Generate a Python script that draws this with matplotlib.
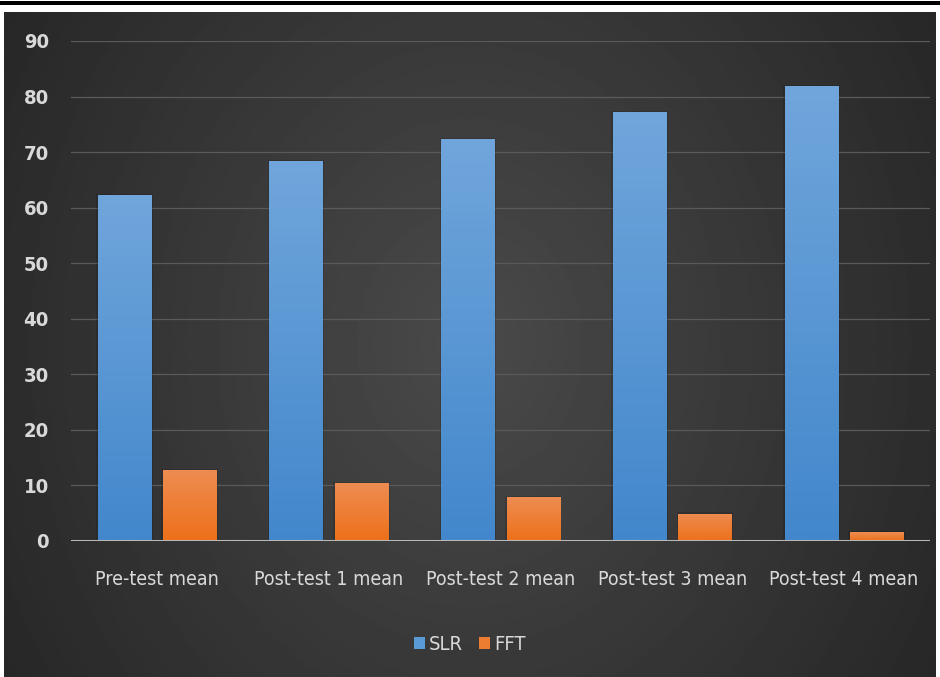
import matplotlib.pyplot as plt
import matplotlib.patches as patches
import numpy as np

# data
categories = ["Pre-test mean", "Post-test 1 mean", "Post-test 2 mean",
              "Post-test 3 mean", "Post-test 4 mean"]
slr_values = [62.3, 68.4, 72.3, 77.2, 81.9]
fft_values = [12.8, 10.4, 7.9, 4.9, 1.6]
y_ticks = [0, 10, 20, 30, 40, 50, 60, 70, 80, 90]

plt.rcParams['font.family'] = ['DejaVu Sans']
plt.rcParams['font.stretch'] = 'condensed'

fig = plt.figure(figsize=(9.4, 6.77), dpi=100)
fig.patch.set_facecolor("white")

# dark radial background panel
bg = fig.add_axes([4 / 940, 0, 932 / 940, 1 - 12 / 677], zorder=-5)
yy, xx = np.mgrid[-1:1:300j, -1:1:400j]
r = np.sqrt((xx * 1.0) ** 2 + (yy * 0.6) ** 2)
bg.imshow(0.29 - 0.14 * np.clip(r, 0, 1.2) / 1.2, cmap="gray", vmin=0, vmax=1,
          aspect="auto", extent=[0, 1, 0, 1])
bg.set_axis_off()

# black rule across the top
fig.add_artist(patches.Rectangle((0, 1 - 5 / 677), 1, 4 / 677,
                                 transform=fig.transFigure,
                                 facecolor="black", edgecolor="none"))

ax = fig.add_axes([71 / 940, 1 - 541 / 677, 859 / 940, 500 / 677])
ax.patch.set_alpha(0)

x = np.arange(len(categories))
w = 0.31
off = 0.19


def gradient_bar(xc, h, top_col, bot_col):
    rect = patches.Rectangle((xc - w / 2, 0), w, h, facecolor="none",
                             edgecolor="none")
    ax.add_patch(rect)
    grad = np.linspace(0, 1, 100)[:, None]
    c1 = np.array(top_col)
    c2 = np.array(bot_col)
    img = c2[None, None, :] * (1 - grad[..., None]) + c1[None, None, :] * grad[..., None]
    im = ax.imshow(img, extent=[xc - w / 2, xc + w / 2, 0, h], origin="lower",
                   aspect="auto", zorder=3)
    im.set_clip_path(rect)
    # soft shadow
    ax.add_patch(patches.Rectangle((xc - w / 2 - 0.01, 0), w + 0.02, h + 0.25,
                                   facecolor="black", alpha=0.12,
                                   edgecolor="none", zorder=2))


for i in range(len(categories)):
    gradient_bar(x[i] - off, slr_values[i], (0.44, 0.65, 0.86), (0.26, 0.53, 0.80))
    gradient_bar(x[i] + off, fft_values[i], (0.93, 0.55, 0.32), (0.93, 0.44, 0.10))

ax.set_xlim(-0.5, len(categories) - 0.5)
ax.set_ylim(0, 90)
ax.set_yticks(y_ticks)
ax.set_xticks(x)
ax.set_xticklabels(categories)

for yv in y_ticks[1:]:
    ax.axhline(yv, color="#5a5a5a", linewidth=0.9, zorder=1)
ax.axhline(0, color="#b8b8b8", linewidth=2.2, zorder=4)

for s in ax.spines.values():
    s.set_visible(False)
ax.tick_params(axis="both", length=0, colors="#d9d9d9", labelsize=14)
ax.tick_params(axis="y", pad=16, labelsize=14.5)
ax.tick_params(axis="x", pad=21)
for lab in ax.get_yticklabels():
    lab.set_fontweight("bold")

# legend
handles = [patches.Patch(facecolor="#5b9bd5", label="SLR"),
           patches.Patch(facecolor="#ed7d31", label="FFT")]
leg = fig.legend(handles=handles, loc="center", bbox_to_anchor=(0.5, 1 - 645 / 677),
                 ncol=2, frameon=False, fontsize=14.5, handlelength=0.55,
                 handleheight=0.55, handletextpad=0.2, columnspacing=0.8)
for t in leg.get_texts():
    t.set_color("#d9d9d9")

fig.savefig("out.png", dpi=100, facecolor=fig.get_facecolor())
